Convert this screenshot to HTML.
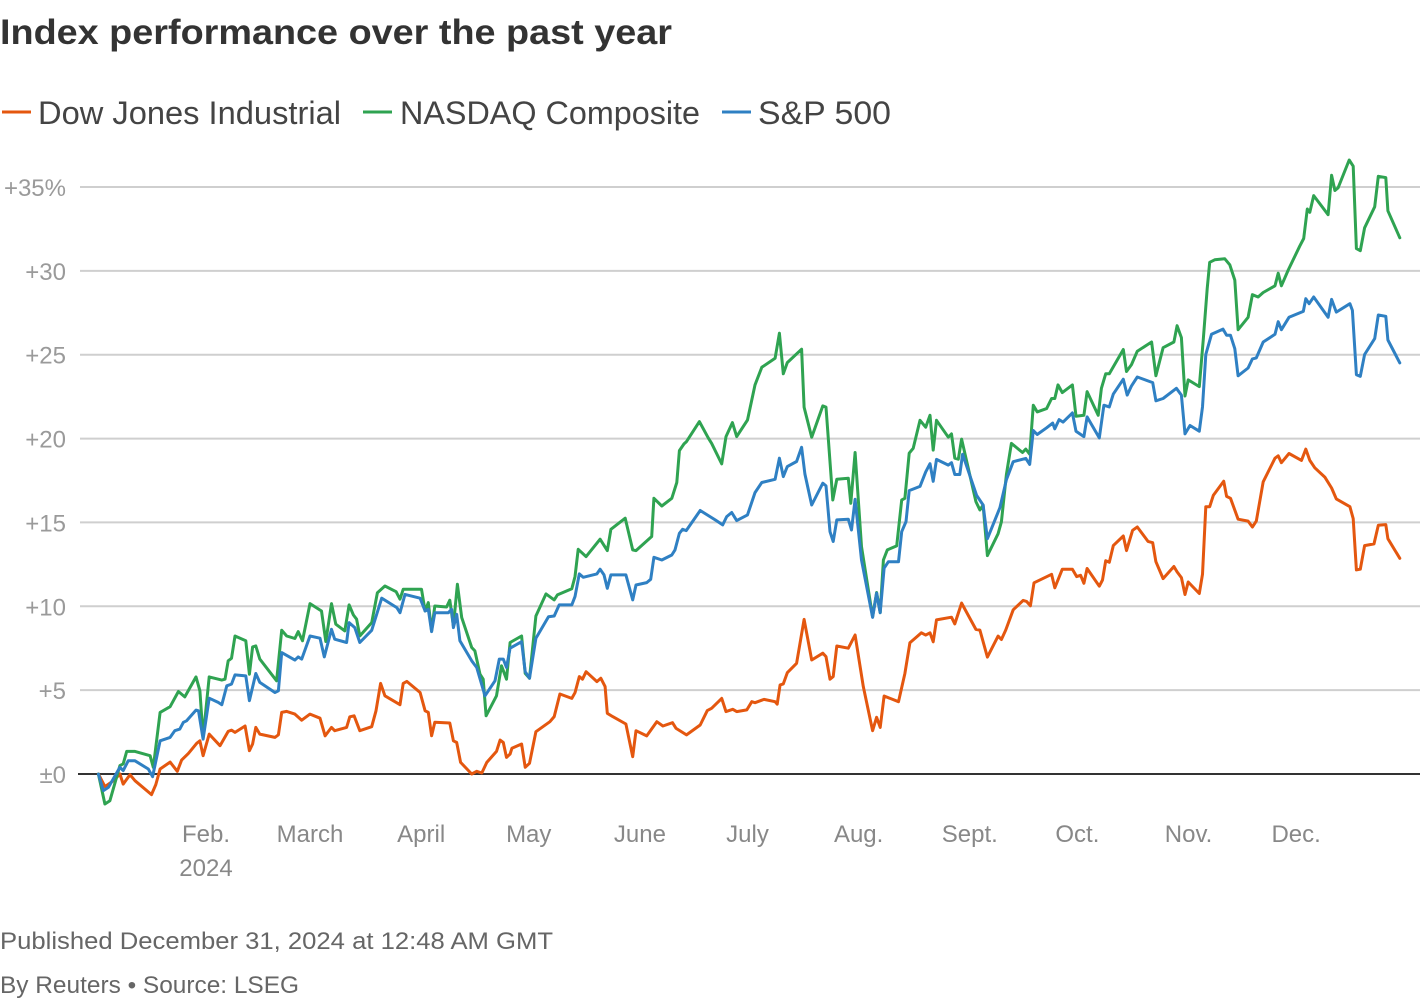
<!DOCTYPE html>
<html>
<head>
<meta charset="utf-8">
<style>
  html,body{margin:0;padding:0;background:#fff;}
  svg{display:block;font-family:"Liberation Sans",sans-serif;}
</style>
</head>
<body>
<svg id="chart" width="1420" height="1000" viewBox="0 0 1420 1000">
  <text x="0" y="44" font-size="35" font-weight="bold" fill="#333" textLength="672" lengthAdjust="spacingAndGlyphs">Index performance over the past year</text>
  <g>
    <g>
      <line x1="2" y1="112" x2="31" y2="112" stroke="#e4570f" stroke-width="3"/>
      <text x="38" y="124" font-size="32" fill="#444" textLength="303" lengthAdjust="spacingAndGlyphs">Dow Jones Industrial</text>
    </g>
    <g>
      <line x1="363" y1="112" x2="392" y2="112" stroke="#2fa351" stroke-width="3"/>
      <text x="400" y="124" font-size="32" fill="#444" textLength="300" lengthAdjust="spacingAndGlyphs">NASDAQ Composite</text>
    </g>
    <g>
      <line x1="722" y1="112" x2="751" y2="112" stroke="#2f80c3" stroke-width="3"/>
      <text x="758" y="124" font-size="32" fill="#444" textLength="133" lengthAdjust="spacingAndGlyphs">S&amp;P 500</text>
    </g>
  </g>
  <g id="grid"></g>
  <g id="yticks"></g>
  <g id="xticks"></g>
  <g id="series"></g>
  <text x="0" y="949" font-size="24" fill="#666" textLength="553" lengthAdjust="spacingAndGlyphs">Published December 31, 2024 at 12:48 AM GMT</text>
  <text x="0" y="993" font-size="24" fill="#666" textLength="299" lengthAdjust="spacingAndGlyphs">By Reuters • Source: LSEG</text>
</svg>
<script>
const yTickValues = [0,5,10,15,20,25,30,35];
const yTickLabels = ["±0","+5","+10","+15","+20","+25","+30","+35%"];
const monthLabels = ["Feb.","March","April","May","June","July","Aug.","Sept.","Oct.","Nov.","Dec."];
const monthDays = [31,60,91,121,152,182,213,244,274,305,335];

const dowDays = [1,2.8,5.2,7,7.9,9.8,11.2,15.8,17,18.2,21,23,24.2,26.1,28.4,29.3,30.2,31.9,34.9,37.2,38.1,39.1,41.9,43.1,44,44.9,46,50.2,51.2,52.1,53.5,55.8,57.7,60,62.8,64.2,66,66.9,70.2,71.1,72.3,73.9,77.2,78.4,79.7,80.9,85.1,86,87,90.7,92.1,93,93.9,94.8,99,100,100.9,102,105.1,106.5,107.9,109.3,112,113,113.9,114.8,115.8,116.3,119,120,121.2,123,126.9,128.1,129.7,133,133.9,135.1,136,137,140,141.1,142.3,142.9,144.4,148.1,150,150.9,153.9,156.7,158.4,161.1,162.1,165,168.8,170.8,172,174.8,176,177.9,179,181.8,183.2,184.1,186.6,189.7,190.3,191.1,192,193.1,195.7,197.8,199.9,203,203.9,205,205.9,206.9,210.1,212,214.3,216.9,218,219,220.1,224.1,225.9,227.3,230.5,231.7,232.9,233.8,234.7,238.9,239.8,241.7,245.7,246.8,248.9,251.9,252.8,254,256.1,258.9,259.8,260.9,261.9,266.8,267.7,269.8,272.6,273.8,274.9,275.8,276.7,280.1,281,281.9,282.9,284,286.8,287.7,289.4,290.7,293.7,295,295.9,297.9,300.9,301.8,303,304,304.9,308,308.9,309.8,310.9,311.9,314.8,315.6,316.7,318.8,321.6,322.8,323.9,325.8,329.1,330,330.9,333,336.5,337.7,338.8,340.2,343,344.9,346.2,350,350.9,351.8,352.9,354.1,356.7,357.9,360,360.6,363.9];
const dowValues = [0,-0.75,-0.4,0,-0.6,-0.04,-0.4,-1.23,-0.63,0.3,0.71,0.16,0.83,1.23,1.83,1.98,1.09,2.38,1.69,2.54,2.62,2.48,2.86,1.39,1.79,2.78,2.38,2.18,2.34,3.67,3.73,3.57,3.21,3.57,3.33,2.28,2.78,2.58,2.78,3.41,3.47,2.58,2.82,3.77,5.4,4.66,4.13,5.4,5.52,4.86,3.77,3.67,2.28,3.08,3.04,1.98,1.88,0.69,0,0.16,0.06,0.69,1.35,2.02,1.88,0.99,1.19,1.53,1.79,0.4,0.64,2.52,3.12,3.42,4.77,4.51,4.85,5.81,5.65,6.1,5.51,5.71,5.21,3.62,3.42,2.98,1.03,2.58,2.27,3.12,2.86,3.06,2.72,2.33,2.92,3.78,3.92,4.51,3.72,3.86,3.72,3.82,4.31,4.25,4.45,4.31,4.17,5.31,5.37,6.04,6.6,9.22,6.8,7.2,7,5.65,5.81,7.63,7.5,8.29,5.21,2.58,3.38,2.78,4.65,4.31,6,7.82,8.42,8.28,8.42,7.88,9.19,9.35,8.95,10.19,8.62,8.58,6.97,8.22,8.02,8.58,9.79,10.35,10.29,10.03,11.4,11.91,11.1,12.21,12.21,11.77,11.85,11.37,12.25,11.2,11.57,12.72,12.62,13.62,14.19,13.32,14.53,14.73,13.87,13.79,12.66,11.65,12.37,12.05,11.71,10.7,11.45,10.76,11.91,15.94,15.94,16.61,17.46,16.55,16.44,15.19,15.08,14.73,15.08,17.42,18.83,18.97,18.56,19.11,18.7,19.37,18.7,18.26,17.7,17.05,16.4,15.94,15.23,12.17,12.21,13.62,13.72,14.83,14.87,14.03,12.86];

const nasdaqDays = [1,2.8,4.2,7,7.9,8.9,11.2,15.4,16.3,18.2,21,23.3,25.1,28.2,29.3,30.2,31.9,35.4,36.3,37.2,38.1,39.1,42.1,43.1,44,44.9,46,50.7,52.1,53.5,55.8,56.7,57.9,60,63.2,64.4,66,67.2,69.7,70.9,72.1,73,73.9,77.2,78.8,80.9,84,85.1,86,91.1,92.1,93,93.9,94.8,98.1,99,100,101.1,102.3,105.1,106,107.4,108.3,109.1,112,113.4,114.8,115.8,119,120,121.2,123,125.8,128.1,129,133,133.9,134.8,137,140.9,142.9,143.9,147.9,150,150.9,155.3,155.9,158.1,160.9,162.3,163,164.3,165,168.6,171.1,172,174.8,176,177.8,179,182,184.1,186,189.7,190.9,192,193.1,197.1,197.8,199.9,203,203.9,205.8,206.9,210.1,210.8,212,213.8,216.9,218,219,219.9,221,223.6,225,225.9,227.1,228.2,230.1,231.7,232.9,233.8,234.7,238,238.9,239.8,240.8,241.7,245.7,246.8,247.7,248.9,251.9,252.8,254.2,255.6,258.7,259.6,260.7,261.7,262.8,265.4,266.8,267.7,268.6,269.8,272.6,273.6,275.8,276.7,279.8,280.7,281.9,282.9,286.8,287.7,289.1,290.7,294.7,295.9,297.9,300.9,301.8,303,304,304.9,308,309.1,310.2,310.9,312.3,315.1,316.5,317.9,318.8,321.6,322.8,324.4,325.8,329.1,330,330.9,332.8,336,337.1,338.1,338.8,339.9,343.9,344.9,345.8,346.7,349.8,350.9,351.8,352.9,354.1,356.9,357.9,360,360.6,363.9];
const nasdaqValues = [0,-1.79,-1.59,0.5,0.6,1.35,1.35,1.09,0.4,3.67,4.01,4.92,4.6,5.79,4.96,2.18,5.79,5.6,5.65,6.75,6.9,8.23,7.94,5.95,7.58,7.64,6.85,5.56,8.57,8.23,8.08,8.49,7.94,10.16,9.72,7.9,10.16,8.93,8.53,10.08,9.48,9.23,8.23,9.03,10.81,11.21,10.87,10.42,11.01,11.01,9.72,10.22,8.53,10.02,9.96,10.36,8.83,11.31,9.33,7.54,7.34,5.95,5.65,3.47,4.66,6.45,5.65,7.84,8.23,6,5.71,9.42,10.74,10.38,10.68,11.05,11.77,13.4,12.96,14,13.32,14.59,15.25,13.36,13.32,14.16,16.44,15.98,16.44,17.38,19.28,19.68,19.82,21.01,20.02,19.72,18.49,20.12,20.95,20.12,21.11,23.2,24.25,24.79,26.28,23.86,24.53,25.33,21.87,20.08,21.95,21.87,16.34,17.57,17.63,16.14,19.17,13.56,9.38,10.82,9.62,12.76,13.36,13.6,16.34,16.44,19.13,19.42,21.09,20.68,21.39,19.31,21.09,20.08,20.28,18.83,18.77,19.97,16.24,15.74,16.04,13.02,14.33,15.04,17.86,19.71,19.17,19.37,19.07,21.99,21.59,21.79,22.39,22.39,23.2,22.74,23.2,21.33,21.39,22.8,21.39,23,23.86,23.86,25.31,24,24.41,25.21,25.76,23.74,25.42,25.76,26.73,26.02,22.54,23.5,23.1,25.92,28.94,30.51,30.66,30.72,30.36,29.45,26.49,27.23,28.58,28.44,28.71,29.11,29.86,29.11,30.06,31.47,31.93,33.69,33.49,34.49,33.35,35.7,34.79,34.95,36.61,36.24,31.33,31.2,32.57,33.82,35.64,35.56,33.58,31.97];

const spDays = [1,2.4,3.8,7,7.9,9.3,11.2,14.9,16.1,18.2,21,22.3,23.7,24.7,25.6,28.2,28.9,30.2,31.9,34.4,35.4,36.8,38.1,39.1,42.1,43.1,44.9,46,50.2,51.2,52.1,55.8,56.7,57.7,60,62.8,64,66,66.9,70.2,70.9,72.5,73.9,77.2,80,84.2,85.1,86.5,90.7,92.1,93,93.9,94.8,98.6,99.5,100,100.9,101.8,105.1,106.5,108.8,111.6,112.8,113.9,114.8,115.8,119,120,121.2,123,126.5,128.1,129.5,133,133.9,135.1,136.2,140,140.9,142,142.9,143.9,148.1,150,150.9,153.9,155,155.9,158.1,160.9,161.8,163,163.9,164.9,168.8,173,175.1,176.2,177.6,179,182,184.1,186,189.7,190.9,192,193.1,195.7,197.1,198,199.9,203,203.9,205,205.9,206.9,210.1,211,212,213.8,216.9,218,219,220.1,221.3,224.1,225,226.2,227.1,230.1,231.7,232.9,233.8,234.7,238,238.9,239.8,241.2,242,245.9,247.7,248.9,252.4,254.2,256.1,259.6,260.7,261.7,262.8,265.4,267.1,267.7,268.9,270,272.6,273.6,275.8,276.7,280.1,281.4,282.9,284,286.8,287.9,289.1,290.7,295,295.9,297.9,301.6,303,304,305.4,308,308.9,309.8,311.4,314.6,315.6,316.7,317.9,318.8,321.6,322.8,323.9,325.8,329.1,330,330.9,333,337,337.7,338.6,339.9,343.9,344.9,346.2,350,350.7,351.8,352.9,354.1,356.9,357.9,360,360.6,363.9];
const spValues = [0,-0.99,-0.79,0.4,0.2,0.79,0.79,0.3,-0.16,1.98,2.18,2.58,2.68,3.08,3.17,3.81,3.77,2.08,4.52,4.27,4.13,5.26,5.36,5.91,5.85,4.37,5.99,5.46,4.86,4.96,7.24,6.79,6.98,6.85,8.23,8.1,6.98,8.63,8.04,7.84,9.03,8.73,7.84,8.57,10.48,9.92,9.62,10.71,10.48,9.72,9.82,8.49,9.62,9.62,9.82,8.73,9.52,7.94,6.75,6.35,4.66,5.56,6.85,6.85,6.35,7.5,7.89,6.1,5.71,8.09,9.38,9.42,10.08,10.08,10.58,11.93,11.73,11.93,12.21,11.87,11.07,11.87,11.87,10.38,11.27,11.41,11.61,12.92,12.76,13.06,13.36,14.35,14.59,14.51,15.71,15.15,14.85,15.35,15.59,15.11,15.45,16.78,17.38,17.57,18.83,17.73,18.33,18.63,19.48,17.89,16.04,17.34,17.18,14.45,13.86,15.15,15.19,14.55,16.38,12.76,9.34,10.78,9.62,12.27,12.66,12.66,14.45,15.05,16.9,17.15,18.01,18.5,17.45,18.76,18.42,18.56,17.86,17.86,19.07,16.61,16.04,14.03,15.88,17.55,18.62,18.82,18.46,20.48,20.24,20.64,20.92,20.58,21.13,20.98,21.53,20.44,20.12,21.29,20.04,21.99,21.89,22.65,23.54,22.59,23.14,23.67,23.34,22.25,22.39,23,22.59,20.28,20.78,20.44,21.89,25.01,26.22,26.53,26.16,26.16,25.36,23.74,24.21,24.75,24.81,25.76,26.22,26.97,26.49,27.23,27.58,28.34,28.04,28.44,27.23,28.3,27.54,28.04,27.64,23.81,23.71,25.01,25.96,27.37,27.29,25.88,24.51];

const NS = "http://www.w3.org/2000/svg";
const yScale = v => 774 - v * (587 / 35);
const xScale = d => 206 + (d - 31) * 3.586;

const grid = document.getElementById('grid');
const yt = document.getElementById('yticks');
yTickValues.forEach((v, i) => {
  const ln = document.createElementNS(NS, 'line');
  
  
  ln.setAttribute('x1', v === 0 ? 78 : 80);
  ln.setAttribute('x2', 1420);
  ln.setAttribute('y1', yScale(v));
  ln.setAttribute('y2', yScale(v));
  ln.setAttribute('stroke', v === 0 ? '#333' : '#cfcfcf');
  ln.setAttribute('stroke-width', 2);
  grid.appendChild(ln);
  const t = document.createElementNS(NS, 'text');
  
  
  t.setAttribute('x', 66);
  t.setAttribute('y', yScale(v) + 9);
  t.setAttribute('text-anchor', 'end');
  t.setAttribute('font-size', 24);
  t.setAttribute('fill', '#9a9a9a');
  t.textContent = yTickLabels[i];
  yt.appendChild(t);
});

const xt = document.getElementById('xticks');
monthLabels.forEach((m, i) => {
  const t = document.createElementNS(NS, 'text');
  
  
  t.setAttribute('x', xScale(monthDays[i]));
  t.setAttribute('y', 842);
  t.setAttribute('text-anchor', 'middle');
  t.setAttribute('font-size', 24);
  t.setAttribute('fill', '#888');
  t.textContent = m;
  xt.appendChild(t);
});
const yr = document.createElementNS(NS, 'text');


yr.setAttribute('x', xScale(monthDays[0]));
yr.setAttribute('y', 876);
yr.setAttribute('text-anchor', 'middle');
yr.setAttribute('font-size', 24);
yr.setAttribute('fill', '#888');
yr.textContent = '2024';
xt.appendChild(yr);

const sg = document.getElementById('series');
function drawLine(days, vals, color, name) {
  const p = document.createElementNS(NS, 'path');
  
  
  p.setAttribute('d', days.map((d, i) => (i ? 'L' : 'M') + xScale(d).toFixed(1) + ',' + yScale(vals[i]).toFixed(1)).join(''));
  p.setAttribute('fill', 'none');
  p.setAttribute('stroke', color);
  p.setAttribute('stroke-width', 3);
  p.setAttribute('stroke-linejoin', 'round');
  p.setAttribute('stroke-linecap', 'round');
  sg.appendChild(p);
}
drawLine(dowDays, dowValues, '#e4570f', 'dow-jones-line');
drawLine(nasdaqDays, nasdaqValues, '#2fa351', 'nasdaq-line');
drawLine(spDays, spValues, '#2f80c3', 'sp500-line');
</script>
</body>
</html>
